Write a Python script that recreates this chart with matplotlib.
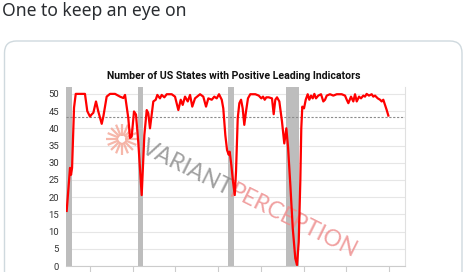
import matplotlib
matplotlib.use("Agg")
import matplotlib.pyplot as plt
from matplotlib.patches import FancyBboxPatch
import numpy as np

# ---------------- data ----------------
years = [1982.27, 1982.54, 1982.66, 1982.78, 1982.90, 1983.13, 1983.33, 1984.41, 1984.68,
         1985.00, 1985.18, 1985.39, 1985.70, 1985.97, 1986.37, 1986.56, 1986.95, 1987.34,
         1987.93, 1988.51, 1988.90, 1989.10, 1989.48, 1989.68, 1989.88, 1990.15, 1990.38,
         1990.65, 1991.05, 1991.36, 1991.64, 1991.82, 1992.02, 1992.41, 1992.69, 1992.88,
         1993.19, 1993.39, 1993.70, 1993.98, 1994.56, 1994.95, 1995.34, 1995.62, 1995.85,
         1996.12, 1996.44, 1996.71, 1996.97, 1997.29, 1997.88, 1998.26, 1998.58, 1998.85,
         1999.25, 1999.55, 1999.83, 2000.10, 2000.42, 2000.60, 2000.84, 2001.04, 2001.24,
         2001.35, 2001.54, 2001.74, 2001.94, 2002.09, 2002.29, 2002.48, 2002.68, 2002.87,
         2003.06, 2003.26, 2003.49, 2003.76, 2004.35, 2004.75, 2005.05, 2005.25, 2005.45,
         2005.64, 2005.92, 2006.30, 2006.50, 2006.69, 2006.89, 2007.16, 2007.47, 2007.74,
         2007.98, 2008.18, 2008.45, 2008.73, 2009.03, 2009.23, 2009.43, 2009.62, 2009.73,
         2009.85, 2010.05, 2010.25, 2010.48, 2010.67, 2010.87, 2011.07, 2011.26, 2011.45,
         2011.72, 2012.04, 2012.31, 2012.51, 2012.71, 2013.09, 2013.48, 2013.88, 2014.46,
         2014.85, 2015.05, 2015.24, 2015.55, 2015.82, 2016.02, 2016.22, 2016.49, 2016.72,
         2016.99, 2017.19, 2017.38, 2017.65, 2017.97, 2018.16, 2018.36, 2018.68, 2018.95,
         2019.14, 2019.33, 2019.53, 2019.73, 2019.92]
states = [16.0, 24.5, 28.5, 26.5, 28.5, 46.0, 50.0, 50.0, 45.0,
          43.4, 44.0, 44.5, 47.8, 44.9, 41.3, 43.4, 49.2, 50.0,
          50.0, 49.2, 48.8, 49.7, 43.0, 37.2, 37.6, 44.9, 44.0,
          36.0, 20.6, 38.0, 45.3, 44.4, 40.0, 47.8, 48.3, 49.7,
          48.7, 49.7, 49.0, 49.9, 49.9, 49.2, 45.3, 48.3, 46.8,
          49.2, 47.8, 49.7, 46.3, 48.7, 49.9, 49.2, 46.3, 48.7,
          48.3, 49.2, 48.7, 49.9, 48.3, 45.8, 38.0, 33.7, 32.3,
          33.2, 29.4, 24.5, 20.6, 27.4, 42.9, 47.3, 48.3, 45.8,
          41.0, 44.9, 48.7, 49.9, 49.9, 49.5, 48.7, 49.2, 48.3,
          49.0, 49.0, 48.7, 44.1, 48.3, 49.0, 47.8, 42.0, 35.6,
          40.0, 34.5, 23.5, 11.0, 2.2, 0.3, 7.0, 25.0, 40.0,
          46.3, 45.8, 48.3, 49.9, 48.3, 49.5, 48.7, 50.0, 48.7,
          49.5, 49.9, 47.8, 48.3, 49.5, 49.9, 49.5, 49.9, 49.9,
          49.5, 48.3, 47.3, 49.2, 47.8, 49.9, 47.8, 49.2, 48.7,
          49.5, 49.2, 50.0, 49.5, 49.9, 49.2, 49.5, 48.7, 48.3,
          47.8, 48.3, 46.8, 45.3, 43.7]
recession_start = [1981.5, 1990.58, 2001.2, 2007.92]
recession_end = [1982.9, 1991.2, 2001.9, 2009.5]
threshold = 43.4
xticks = [1985, 1990, 1995, 2000, 2005, 2010, 2015, 2020]
yticks = [0, 5, 10, 15, 20, 25, 30, 35, 40, 45, 50]

tweet_text = "One to keep an eye on"
chart_title = "Number of US States with Positive Leading Indicators"

# ---------------- figure ----------------
W, H = 474, 272
fig = plt.figure(figsize=(W / 100, H / 100), dpi=100)
fig.patch.set_facecolor("white")

bg = fig.add_axes([0, 0, 1, 1], zorder=0)
bg.set_xlim(0, W)
bg.set_ylim(H, 0)
bg.axis("off")
card = FancyBboxPatch((4.5, 41), 457.5, 280, boxstyle="round,pad=0,rounding_size=12",
                      ec="#cfd9de", fc="white", lw=1.0)
bg.add_patch(card)
bg.text(2, 11, tweet_text, fontsize=12.6, color="#2a2d31", family="Noto Sans",
        ha="left", va="center")
bg.text(234, 76, chart_title, fontsize=7.6, fontweight="bold", color="#111111",
        family="Roboto", ha="center", va="center")

# chart axes
L, R, T, B = 66, 405, 87, 266
ax = fig.add_axes([L / W, 1 - B / H, (R - L) / W, (B - T) / H], zorder=1)
ax.set_facecolor("white")
ax.set_xlim(1982.19, 2021.87)
ax.set_ylim(0, 52)
for s, e in zip(recession_start, recession_end):
    ax.axvspan(s, e, color="#bdbdbd", lw=0, zorder=1)
ax.set_yticks(yticks)
ax.yaxis.grid(True, color="#e6e6e6", lw=0.8, zorder=0)
ax.set_axisbelow(True)
ax.axhline(threshold, color="#8c8c8c", lw=0.8, ls=(0, (2, 1.5)), zorder=2)
ax.plot(years, states, color="#ff0000", lw=1.6, zorder=4, solid_joinstyle="round")
ax.set_xticks(xticks)
ax.set_xticklabels([])
ax.tick_params(axis="x", length=6, color="#cccccc", width=0.8)
ax.tick_params(axis="y", length=0, pad=5, labelsize=6.8, labelcolor="#333333")
for lab in ax.get_yticklabels():
    lab.set_family("Roboto")
for side in ["top", "left"]:
    ax.spines[side].set_visible(False)
ax.spines["bottom"].set_color("#cccccc")
ax.spines["right"].set_color("#e0e0e0")
ax.spines["bottom"].set_linewidth(0.8)
ax.spines["right"].set_linewidth(0.8)

# watermark (pixel coordinates via bg transform, drawn inside chart axes under the line)
px = bg.transData
cx, cy = 122, 139
for a in np.arange(0, 360, 22.5):
    r = np.deg2rad(a)
    ax.plot([cx + 3.5 * np.cos(r), cx + 15.5 * np.cos(r)],
            [cy + 3.5 * np.sin(r), cy + 15.5 * np.sin(r)],
            color="#f4a595", lw=1.6, alpha=0.8, solid_capstyle="butt",
            transform=px, clip_on=False, zorder=3)

ang = 26.5
dx, dy = np.cos(np.deg2rad(ang)), np.sin(np.deg2rad(ang))
x0, y0 = 140, 152
wm_kw = dict(fontsize=16.5, fontweight="normal", family="Lato", rotation=-ang,
             rotation_mode="anchor", ha="left", va="baseline", transform=px,
             clip_on=False, zorder=3)
ax.text(x0, y0, "VARIANT", color="#8f8f8f", alpha=0.85, **wm_kw)
tmp = fig.text(0, 0, "VARIANT", fontsize=16.5, fontweight="normal", family="Lato")
fig.canvas.draw()
w = tmp.get_window_extent().width
tmp.remove()
ax.text(x0 + w * dx, y0 + w * dy, "PERCEPTION", color="#ee9090", alpha=0.85, **wm_kw)

fig.savefig("out.png", dpi=100)
